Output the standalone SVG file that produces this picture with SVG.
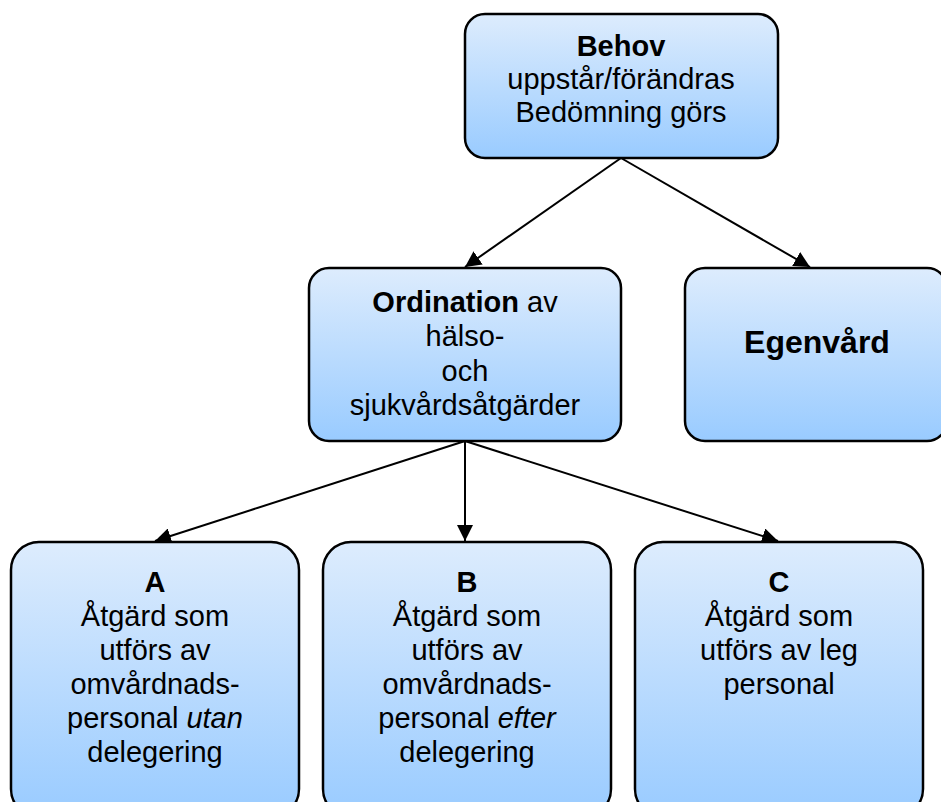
<svg xmlns="http://www.w3.org/2000/svg" width="941" height="802" viewBox="0 0 941 802">
<style>
.box{fill:url(#g);stroke:#000;stroke-width:2.5}
text{font-family:"Liberation Sans",Arial,sans-serif;font-size:29px;fill:#000;text-anchor:middle}
.b{font-weight:bold}
.i{font-style:italic}
</style>
<defs>
<linearGradient id="g" x1="0" y1="0" x2="0" y2="1">
<stop offset="0" stop-color="#ddecfd"/>
<stop offset="1" stop-color="#99cbff"/>
</linearGradient>
<marker id="ah2" viewBox="0 0 10 10" refX="10" refY="5" markerWidth="16" markerHeight="16" markerUnits="userSpaceOnUse" orient="auto">
<path d="M0,0 L10,5 L0,10 z" fill="#000"/>
</marker>
</defs>
<g id="connectors" stroke="#000" stroke-width="2" marker-end="url(#ah2)">
<line x1="621" y1="158" x2="465" y2="267"/>
<line x1="621" y1="158" x2="810" y2="267"/>
<line x1="465" y1="441" x2="155" y2="541"/>
<line x1="465" y1="441" x2="465" y2="541"/>
<line x1="465" y1="441" x2="778" y2="541"/>
</g>
<g id="behov">
<rect class="box" x="465" y="14" width="313" height="144" rx="20"/>
<text x="621" y="56" class="b">Behov</text>
<text x="621" y="89">uppstår/förändras</text>
<text x="621" y="122">Bedömning görs</text>
</g>
<g id="ordination">
<rect class="box" x="309" y="268" width="312" height="173" rx="20"/>
<text x="465" y="312"><tspan class="b">Ordination</tspan> av</text>
<text x="465" y="346">hälso-</text>
<text x="465" y="381">och</text>
<text x="465" y="415">sjukvårdsåtgärder</text>
</g>
<g id="egenvard">
<rect class="box" x="685" y="268" width="262" height="173" rx="20"/>
<text x="817" y="353" class="b" style="font-size:32px">Egenvård</text>
</g>
<g id="a">
<rect class="box" x="11" y="542" width="288" height="275" rx="28"/>
<text x="155" y="592" class="b">A</text>
<text x="155" y="626">Åtgärd som</text>
<text x="155" y="660">utförs av</text>
<text x="155" y="694">omvårdnads-</text>
<text x="155" y="728">personal <tspan class="i">utan</tspan></text>
<text x="155" y="762">delegering</text>
</g>
<g id="b">
<rect class="box" x="323" y="542" width="288" height="275" rx="28"/>
<text x="467" y="592" class="b">B</text>
<text x="467" y="626">Åtgärd som</text>
<text x="467" y="660">utförs av</text>
<text x="467" y="694">omvårdnads-</text>
<text x="467" y="728">personal <tspan class="i">efter</tspan></text>
<text x="467" y="762">delegering</text>
</g>
<g id="c">
<rect class="box" x="635" y="542" width="288" height="275" rx="28"/>
<text x="779" y="592" class="b">C</text>
<text x="779" y="626">Åtgärd som</text>
<text x="779" y="660">utförs av leg</text>
<text x="779" y="694">personal</text>
</g>
</svg>
